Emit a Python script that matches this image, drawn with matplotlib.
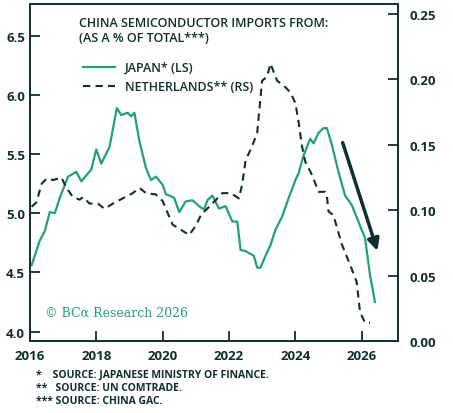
import matplotlib
matplotlib.use("Agg")
import matplotlib.pyplot as plt

plt.rcParams['font.family'] = ['Open Sans', 'DejaVu Sans']

japan_x = [2016.05,2016.3,2016.45,2016.6,2016.75,2016.9,2017.15,2017.4,2017.55,2017.85,2018.0,2018.15,2018.4,2018.62,2018.75,2018.95,2019.05,2019.15,2019.3,2019.5,2019.65,2019.8,2020.0,2020.1,2020.2,2020.35,2020.5,2020.7,2020.9,2021.1,2021.25,2021.35,2021.5,2021.7,2021.9,2022.1,2022.25,2022.35,2022.5,2022.75,2022.85,2022.95,2023.1,2023.25,2023.4,2023.6,2023.8,2023.95,2024.0,2024.1,2024.25,2024.45,2024.55,2024.7,2024.85,2024.95,2025.1,2025.3,2025.5,2025.7,2025.9,2026.1,2026.25,2026.4]
japan_y = [4.56,4.77,4.85,5.01,5.0,5.13,5.31,5.35,5.27,5.37,5.54,5.42,5.56,5.89,5.83,5.85,5.82,5.85,5.61,5.38,5.28,5.31,5.24,5.16,5.15,5.13,5.01,5.10,5.11,5.06,5.03,5.11,5.15,5.04,5.06,4.93,4.93,4.69,4.68,4.64,4.54,4.54,4.64,4.73,4.86,4.97,5.13,5.24,5.28,5.34,5.49,5.63,5.59,5.68,5.72,5.72,5.58,5.35,5.15,5.07,4.93,4.79,4.48,4.25]
neth_x = [2016.05,2016.2,2016.35,2016.5,2016.7,2016.95,2017.1,2017.3,2017.5,2017.6,2017.8,2018.05,2018.25,2018.5,2018.8,2019.1,2019.3,2019.5,2019.8,2020.0,2020.3,2020.55,2020.8,2021.0,2021.15,2021.3,2021.5,2021.8,2022.05,2022.3,2022.4,2022.5,2022.7,2022.85,2022.95,2023.0,2023.15,2023.25,2023.45,2023.7,2023.85,2024.0,2024.1,2024.2,2024.3,2024.5,2024.7,2024.9,2024.95,2025.0,2025.15,2025.4,2025.7,2025.85,2025.95,2026.1,2026.25]
neth_y = [0.1026,0.106,0.12,0.124,0.123,0.125,0.117,0.11,0.108,0.11,0.105,0.105,0.101,0.105,0.109,0.113,0.117,0.113,0.112,0.107,0.089,0.085,0.081,0.088,0.096,0.10,0.105,0.113,0.113,0.109,0.12,0.138,0.149,0.159,0.186,0.199,0.202,0.212,0.199,0.194,0.19,0.182,0.167,0.149,0.137,0.127,0.114,0.114,0.111,0.099,0.096,0.074,0.055,0.045,0.022,0.014,0.014]

GREEN = '#22a07a'
DARK = '#0e2e31'

fig = plt.figure(figsize=(4.53, 4.14), dpi=100)
ax = fig.add_axes([0.066, 0.174, 0.813, 0.814])
ax2 = ax.twinx()
ax.plot(japan_x, japan_y, color=GREEN, lw=1.6, label='JAPAN* (LS)')
ax2.plot(neth_x, neth_y, color=DARK, lw=1.5, ls=(0, (3.5, 2.5)), label='NETHERLANDS** (RS)')

ax.set_xlim(2016, 2027.1)
ax.set_ylim(3.92, 6.77)
ax2.set_ylim(0.0, 0.2576)
ax.set_xticks([2016, 2018, 2020, 2022, 2024, 2026])
ax.set_yticks([4.0, 4.5, 5.0, 5.5, 6.0, 6.5])
ax2.set_yticks([0.0, 0.05, 0.10, 0.15, 0.20, 0.25])
ax2.set_yticklabels(['0.00', '0.05', '0.10', '0.15', '0.20', '0.25'])
for a in (ax, ax2):
    for s in a.spines.values():
        s.set_color(DARK); s.set_linewidth(1.2)
    a.tick_params(direction='in', length=7, width=1.3, colors=DARK, labelsize=9.5)
    for lab in a.get_xticklabels() + a.get_yticklabels():
        lab.set_fontweight('bold')
ax.tick_params(axis='x', pad=6)
ax2.tick_params(axis='y', pad=8)

ax.annotate('', xy=(2026.5, 4.66), xytext=(2025.4, 5.62), xycoords='data',
            arrowprops=dict(arrowstyle='-|>,head_length=0.7,head_width=0.35', color=DARK, lw=2.5))

fig.text(0.175, 0.958, 'CHINA SEMICONDUCTOR IMPORTS FROM:\n(AS A % OF TOTAL***)', color=DARK,
         fontsize=9, fontweight='semibold', va='top', linespacing=1.2)
h1, l1 = ax.get_legend_handles_labels()
h2, l2 = ax2.get_legend_handles_labels()
leg = ax.legend(h1 + h2, l1 + l2, loc='upper left', bbox_to_anchor=(0.13, 0.845), frameon=False,
                fontsize=9, handlelength=2.6, labelspacing=0.5, borderaxespad=0)
for t in leg.get_texts():
    t.set_color(DARK); t.set_fontweight('semibold')

ax.text(0.04, 0.075, '© BCα Research 2026', transform=ax.transAxes, color=GREEN,
        fontsize=9, family=['DejaVu Serif'])

fig.text(0.08, 0.108, '*    SOURCE: JAPANESE MINISTRY OF FINANCE.\n**   SOURCE: UN COMTRADE.\n*** SOURCE: CHINA GAC.',
         color=DARK, fontsize=7.5, fontweight='bold', va='top', linespacing=1.3)

fig.savefig('out.png', dpi=100)
